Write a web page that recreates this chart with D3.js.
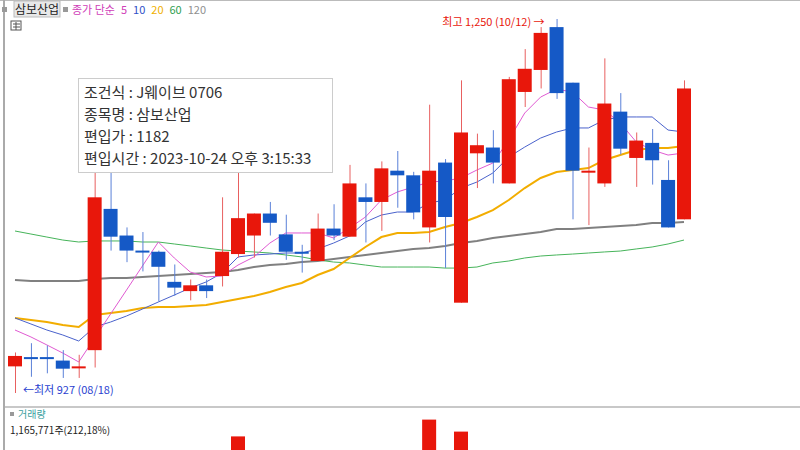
<!DOCTYPE html>
<html><head><meta charset="utf-8">
<script src="https://cdn.jsdelivr.net/npm/d3@7"></script>
<style>body{margin:0;background:#fff}svg{display:block;font-family:"Noto Sans CJK KR","Noto Sans",sans-serif}</style>
</head><body><svg id="c" width="800" height="450"></svg>
<script>
// candles: [open, high, low, close]
const opens  = [950,958,958,955,949,964,1086,1063,1050,1049,1023,1015,1020,1028,1047,1063,1082,1064,1049,1041,1069,1062,1096,1092,1119,1115,1070,1126,1005,1134,1139,1108,1187,1206,1243,1195,1118,1108,1170,1130,1143,1111,1077];
const highs  = [962,970,968,964,960,1120,1117,1070,1066,1050,1038,1025,1025,1096,1120,1082,1092,1081,1055,1082,1090,1124,1108,1127,1136,1118,1176,1129,1197,1151,1154,1200,1224,1243,1250,1195,1139,1216,1186,1152,1155,1128,1197];
const lows   = [927,941,944,940,940,949,1050,1040,1032,1006,1011,1007,1009,1019,1044,1044,1063,1042,1031,1041,1059,1062,1057,1067,1087,1077,1057,1035,1005,1104,1108,1108,1174,1190,1181,1077,1072,1105,1133,1105,1107,1070,1077];
const closes = [959,957,957,948,950,1096,1062,1050,1049,1036,1018,1020,1015,1049,1078,1082,1074,1049,1048,1069,1063,1108,1092,1121,1115,1083,1119,1079,1152,1141,1126,1198,1207,1238,1186,1119,1119,1177,1138,1145,1128,1070,1190];
const volumes = [300000,250000,200000,260000,280000,1500000,900000,600000,500000,700000,400000,300000,300000,1100000,1780000,900000,500000,600000,400000,800000,500000,1300000,700000,900000,500000,600000,1920000,1400000,1820000,600000,700000,1600000,1200000,1300000,1500000,1600000,800000,1400000,900000,700000,600000,900000,1165771];
const ma5   = [981.4,975.4,968.5,961.5,953.8,974.5,995.2,1015.9,1036.7,1057.4,1043.6,1031.5,1027.2,1028.1,1037.5,1044.5,1056.5,1065.2,1065.2,1065.2,1060.9,1069.5,1079.0,1093.7,1100.6,1104.9,1109.2,1110.1,1112.7,1119.6,1125.6,1145.5,1168.8,1182.6,1189.5,1186.9,1174.0,1171.4,1160.2,1143.8,1136.9,1132.5,1134.3];
const ma10  = [991.8,986.6,981.4,977.1,971.9,984.0,988.3,993.5,999.5,1005.6,1011.6,1017.7,1022.9,1030.6,1044.5,1046.2,1047.0,1047.9,1047.9,1051.4,1056.5,1062.6,1074.7,1080.7,1083.3,1083.3,1091.1,1093.7,1104.0,1109.2,1117.0,1130.8,1139.4,1147.2,1152.4,1155.9,1155.9,1162.8,1165.4,1165.4,1165.4,1154.1,1152.4];
const ma20  = [991.8,990.0,988.3,985.7,984.0,994.4,996.1,997.8,1000.4,1001.3,1001.3,1002.1,1003.0,1005.6,1008.2,1010.8,1014.2,1018.5,1022.0,1028.9,1034.1,1043.6,1053.1,1061.7,1065.2,1065.2,1066.0,1070.4,1073.8,1079.0,1085.0,1093.7,1104.0,1112.7,1117.9,1119.6,1121.3,1128.2,1132.5,1136.9,1138.6,1138.6,1140.3];
const ma60  = [1066.9,1064.3,1061.7,1059.1,1057.4,1058.3,1058.3,1058.3,1057.4,1057.4,1055.7,1054.0,1052.2,1050.5,1049.6,1048.8,1047.9,1046.2,1044.5,1041.9,1040.1,1039.3,1037.5,1035.8,1035.8,1035.8,1035.8,1034.9,1034.9,1035.8,1039.3,1041.0,1043.6,1045.3,1046.2,1047.0,1047.9,1048.8,1049.6,1051.4,1053.1,1055.7,1059.1];
const ma120 = [1024.6,1023.7,1023.7,1023.7,1023.7,1025.5,1026.3,1026.3,1027.2,1028.1,1028.9,1029.8,1030.6,1031.5,1033.2,1035.8,1037.5,1038.4,1040.1,1040.9,1042.7,1044.5,1046.2,1047.9,1049.6,1051.4,1052.2,1054.0,1056.5,1058.3,1060.9,1062.6,1064.3,1066.0,1068.7,1068.7,1069.5,1070.4,1071.2,1072.1,1073.8,1073.8,1074.7];
const legendLabels = ["종가 단순","5","10","20","60","120"];
const tipLines = ["조건식 : J웨이브 0706","종목명 : 삼보산업","편입가 : 1182","편입시간 : 2023-10-24 오후 3:15:33"];

const svg = d3.select("#c");
const n = opens.length;
const x = d3.scaleLinear().domain([0, n-1]).range([15, 684]);
const y = d3.scaleLinear().domain([927, 1250]).range([393, 19]);
const yv = d3.scaleLinear().domain([0, 2000000]).range([650, 410]);
const RED = "#e8170b", BLUE = "#1559c6";

svg.append("rect").attr("x",0).attr("y",0).attr("width",800).attr("height",1).attr("fill","#bbb");
svg.append("rect").attr("x",3).attr("y",0).attr("width",2).attr("height",450).attr("fill","#aaa");
svg.append("rect").attr("x",5).attr("y",406).attr("width",795).attr("height",2).attr("fill","#c8c8c8");

const maList = [[ma120,"#808080",2],[ma60,"#46b45a",1],[ma20,"#f2ad00",2],[ma10,"#4a62cc",1],[ma5,"#e05ad2",1]];
const line = d3.line().x((d,i)=>x(i)).y(d=>y(d));
maList.forEach(([arr,col,w])=>{
  svg.append("path").attr("d", line(arr)).attr("fill","none").attr("stroke",col).attr("stroke-width",w);
});

const g = svg.append("g");
d3.range(n).forEach(i=>{
  const up = closes[i] >= opens[i];
  const col = up ? RED : BLUE;
  g.append("line").attr("x1",x(i)+0.5).attr("x2",x(i)+0.5).attr("y1",y(highs[i])).attr("y2",y(lows[i]))
    .attr("stroke", up ? "#e86060" : "#5a80d8").attr("stroke-width",1);
  const top = y(Math.max(opens[i],closes[i])), bot = y(Math.min(opens[i],closes[i]));
  g.append("rect").attr("x",x(i)-7).attr("width",14).attr("y",top).attr("height",Math.max(2,bot-top)).attr("fill",col);
});

const vg = svg.append("g");
d3.range(n).forEach(i=>{
  const col = closes[i] >= opens[i] ? RED : BLUE;
  vg.append("rect").attr("x",x(i)-7).attr("width",14).attr("y",yv(volumes[i])).attr("height",650-yv(volumes[i])).attr("fill",col);
});

const hiIdx = highs.indexOf(d3.max(highs)), loIdx = lows.indexOf(d3.min(lows));
svg.append("text").attr("x",x(hiIdx)-12).attr("y",y(highs[hiIdx])+7).attr("text-anchor","end").attr("font-size",11).attr("fill",RED).text("최고 1,250 (10/12) →");
svg.append("text").attr("x",x(loIdx)+8).attr("y",y(lows[loIdx])+1).attr("font-size",11).attr("fill","#2a3fd0").text("←최저 927 (08/18)");

svg.append("rect").attr("x",2).attr("y",7).attr("width",5).attr("height",5).attr("fill","#999");
svg.append("rect").attr("x",14).attr("y",1).attr("width",46).attr("height",16).attr("fill","#e8e8e8").attr("stroke","#bbb");
svg.append("text").attr("x",37).attr("y",14).attr("text-anchor","middle").attr("font-size",12).attr("fill","#222").text("삼보산업");
svg.append("rect").attr("x",63).attr("y",7).attr("width",5).attr("height",5).attr("fill","#999");
const legCols = ["#d040b8","#d040b8","#3050c8","#f0b000","#30a050","#909090"];
let lx = 72;
legendLabels.forEach((t,i)=>{
  const tx = svg.append("text").attr("x",lx).attr("y",14).attr("font-size",11).attr("fill",legCols[i]).text(t);
  lx += tx.node().getComputedTextLength() + 6;
});
svg.append("rect").attr("x",11).attr("y",21).attr("width",10).attr("height",9).attr("fill","#fff").attr("stroke","#555");
svg.append("path").attr("d","M13,24H20M13,27H20M16,22V30").attr("stroke","#555").attr("stroke-width",1);

svg.append("rect").attr("x",78.5).attr("y",78.5).attr("width",254).attr("height",94).attr("fill","#fff").attr("stroke","#ccc");
tipLines.forEach((t,i)=>{
  svg.append("text").attr("x",84).attr("y",98+i*22).attr("font-size",15).attr("fill","#333").text(t);
});

svg.append("rect").attr("x",10).attr("y",412).attr("width",4).attr("height",4).attr("fill","#999");
svg.append("text").attr("x",18).attr("y",418).attr("font-size",10).attr("fill","#3aa0a0").text("거래량");
svg.append("text").attr("x",10).attr("y",434).attr("font-size",10).attr("fill","#222").text("1,165,771주(212,18%)");
</script></body></html>
